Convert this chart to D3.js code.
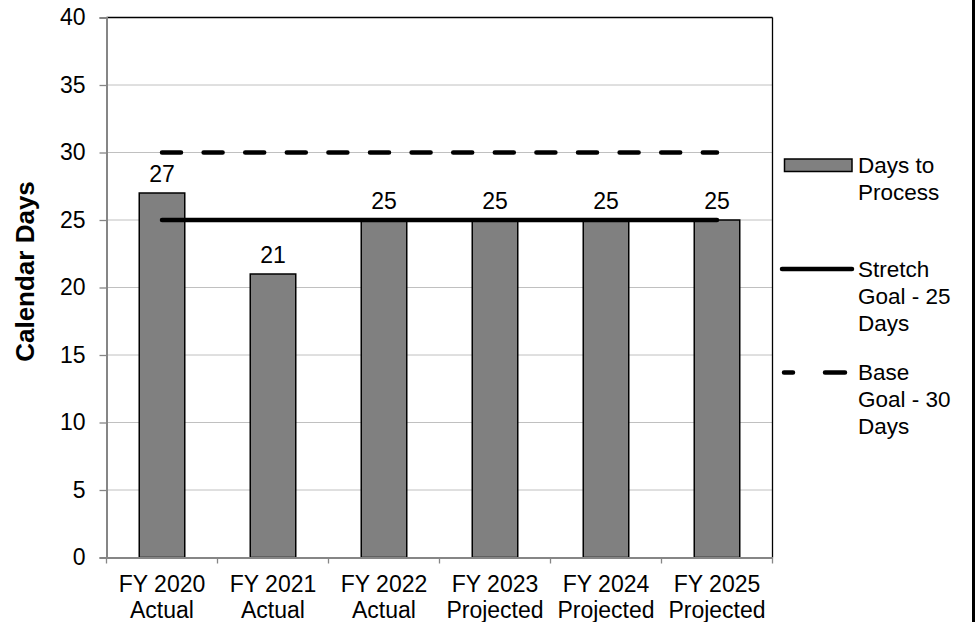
<!DOCTYPE html>
<html>
<head>
<meta charset="utf-8">
<script src="https://cdn.jsdelivr.net/npm/d3@7"></script>
<style>
  body { margin: 0; background: #fff; }
  text { font-family: "Liberation Sans", Arial, sans-serif; fill: #000; }
</style>
</head>
<body>
<div id="content"></div>
<script>
// chart data
var categories = ["FY 2020|Actual", "FY 2021|Actual", "FY 2022|Actual",
                  "FY 2023|Projected", "FY 2024|Projected", "FY 2025|Projected"];
var daysToProcess = [27, 21, 25, 25, 25, 25];
var stretchGoal = [25, 25, 25, 25, 25, 25];
var baseGoal = [30, 30, 30, 30, 30, 30];
var yTicks = [0, 5, 10, 15, 20, 25, 30, 35, 40];

var W = 978, H = 622;
var margin = {top: 17.5, left: 106.5, right: 205.5, bottom: 64.5},
  width = W - margin.left - margin.right,
  height = H - margin.top - margin.bottom;
var fs = "23px";

var svg = d3.select("#content").append("svg")
  .attr("width", W)
  .attr("height", H);

var g = svg.append("g")
  .attr("transform", "translate(" + margin.left + "," + margin.top + ")");

var x = d3.scaleBand().domain(categories).range([0, width]);
var y = d3.scaleLinear().domain([0, 40]).range([height, 0]);
var barW = x.bandwidth() * 0.41;
var cx = function(d) { return x(d) + x.bandwidth() / 2; };

// gridlines
g.selectAll(".grid").data(yTicks.filter(function(t) { return t > 0; }))
  .enter().append("line")
  .attr("x1", 0).attr("x2", width)
  .attr("y1", function(d) { return y(d); })
  .attr("y2", function(d) { return y(d); })
  .attr("stroke", "#c0c0c0").attr("stroke-width", 1);

// plot border top / right
g.append("line").attr("x1", 0).attr("x2", width).attr("y1", 0).attr("y2", 0)
  .attr("stroke", "#000").attr("stroke-width", 1.3);
g.append("line").attr("x1", width).attr("x2", width).attr("y1", 0).attr("y2", height)
  .attr("stroke", "#000").attr("stroke-width", 1.3);

// bars
g.selectAll(".bar").data(daysToProcess).enter().append("rect")
  .attr("x", function(d, i) { return cx(categories[i]) - barW / 2; })
  .attr("y", function(d) { return y(d); })
  .attr("width", barW)
  .attr("height", function(d) { return height - y(d); })
  .attr("fill", "#808080")
  .attr("stroke", "#000")
  .attr("stroke-width", 1.5);

// bar labels
g.selectAll(".lbl").data(daysToProcess).enter().append("text")
  .attr("x", function(d, i) { return cx(categories[i]); })
  .attr("y", function(d) { return y(d) - 11.5; })
  .attr("text-anchor", "middle")
  .style("font-size", fs)
  .text(function(d) { return d; });

var goalLine = d3.line()
  .x(function(d, i) { return cx(categories[i]); })
  .y(function(d) { return y(d); });

g.append("path").datum(baseGoal)
  .attr("d", goalLine)
  .attr("fill", "none").attr("stroke", "#000").attr("stroke-width", 4.5)
  .attr("stroke-linecap", "round")
  .attr("stroke-dasharray", "19,22.6");

g.append("path").datum(stretchGoal)
  .attr("d", goalLine)
  .attr("fill", "none").attr("stroke", "#000").attr("stroke-width", 4.5)
  .attr("stroke-linecap", "round");

// y axis
var yAxis = g.append("g")
  .call(d3.axisLeft(y).tickValues(yTicks).tickSize(7).tickPadding(14));
yAxis.select(".domain").attr("stroke", "#868686").attr("stroke-width", 2);
yAxis.selectAll(".tick line").attr("stroke", "#868686").attr("stroke-width", 1.3);
yAxis.selectAll("text").style("font-size", fs)
  .style("font-family", "Liberation Sans, Arial, sans-serif").attr("fill", "#000");

// x axis
var xAxis = g.append("g")
  .attr("transform", "translate(0," + height + ")")
  .call(d3.axisBottom(x).tickSize(0).tickFormat(""));
xAxis.select(".domain").attr("stroke", "#868686").attr("stroke-width", 2);
var xTickPos = d3.range(categories.length + 1).map(function(i) { return i * x.step(); });
xAxis.selectAll(".xt").data(xTickPos).enter().append("line")
  .attr("x1", function(d) { return d; }).attr("x2", function(d) { return d; })
  .attr("y1", 0).attr("y2", 6)
  .attr("stroke", "#868686").attr("stroke-width", 1.3);

var xl = g.selectAll(".xl").data(categories).enter().append("text")
  .attr("x", function(d) { return cx(d); })
  .attr("y", height + 34.5)
  .attr("text-anchor", "middle")
  .style("font-size", fs);
xl.append("tspan").attr("x", function(d) { return cx(d); })
  .text(function(d) { return d.split("|")[0]; });
xl.append("tspan").attr("x", function(d) { return cx(d); }).attr("dy", 25.5)
  .text(function(d) { return d.split("|")[1]; });

// y title
svg.append("text")
  .attr("transform", "translate(34,271.5) rotate(-90)")
  .attr("text-anchor", "middle")
  .style("font-size", "26px")
  .style("font-weight", "bold")
  .text("Calendar Days");

// legend
var lg = svg.append("g");
lg.append("rect").attr("x", 784.5).attr("y", 159).attr("width", 67.5).attr("height", 12.5)
  .attr("fill", "#808080").attr("stroke", "#000").attr("stroke-width", 1.5);
lg.append("line").attr("x1", 782).attr("x2", 852).attr("y1", 269).attr("y2", 269)
  .attr("stroke", "#000").attr("stroke-width", 4.5).attr("stroke-linecap", "round");
lg.append("line").attr("x1", 784).attr("x2", 846).attr("y1", 372.5).attr("y2", 372.5)
  .attr("stroke", "#000").attr("stroke-width", 4.5).attr("stroke-linecap", "round")
  .attr("stroke-dasharray", "9,32,20,100");

var legendItems = [
  {y: 173, lines: ["Days to", "Process"]},
  {y: 277, lines: ["Stretch", "Goal - 25", "Days"]},
  {y: 380, lines: ["Base", "Goal - 30", "Days"]}
];
legendItems.forEach(function(it) {
  var t = lg.append("text").attr("x", 858).attr("y", it.y).style("font-size", "22.5px");
  it.lines.forEach(function(s, i) {
    t.append("tspan").attr("x", 858).attr("dy", i === 0 ? 0 : 27).text(s);
  });
});

// right border
svg.append("rect").attr("x", 972).attr("y", 0).attr("width", 3).attr("height", H).attr("fill", "#000");
</script>
</body>
</html>
